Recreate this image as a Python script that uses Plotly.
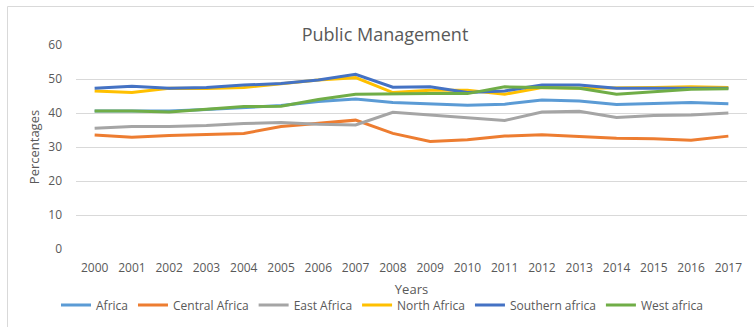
import plotly.graph_objects as go

years = [str(y) for y in range(2000, 2018)]

africa = [40.6, 40.6, 40.6, 41.0, 41.7, 42.2, 43.4, 44.1, 43.1, 42.6, 42.3, 42.6, 43.8, 43.5, 42.5, 42.8, 43.1, 42.7]
central_africa = [33.5, 32.9, 33.4, 33.7, 34.0, 36.0, 37.0, 37.9, 34.0, 31.6, 32.1, 33.2, 33.6, 33.1, 32.6, 32.4, 32.0, 33.2]
east_africa = [35.5, 36.0, 36.0, 36.3, 36.9, 37.2, 36.7, 36.5, 40.2, 39.4, 38.8, 37.8, 40.3, 40.5, 38.7, 39.3, 39.4, 40.0]
north_africa = [46.5, 46.0, 47.3, 47.2, 47.5, 48.7, 49.7, 50.4, 46.0, 46.7, 46.7, 45.5, 47.5, 47.3, 47.3, 47.5, 47.7, 47.5]
southern_africa = [47.3, 47.9, 47.3, 47.5, 48.2, 48.7, 49.7, 51.4, 47.6, 47.7, 46.0, 46.5, 48.2, 48.2, 47.3, 47.3, 47.3, 47.3]
west_africa = [40.6, 40.6, 40.3, 41.0, 41.9, 42.0, 44.0, 45.5, 45.7, 45.7, 45.7, 47.7, 47.5, 47.3, 45.5, 46.2, 47.0, 47.1]

series = [
    ("Africa", africa, "#5B9BD5"),
    ("Central Africa", central_africa, "#ED7D31"),
    ("East Africa", east_africa, "#A5A5A5"),
    ("North Africa", north_africa, "#FFC000"),
    ("Southern africa", southern_africa, "#4472C4"),
    ("West africa", west_africa, "#70AD47"),
]

W, H = 754, 327
ML, MR, MT, MB = 76, 7, 45, 78
PW, PH = W - ML - MR, H - MT - MB

font_family = "Open Sans"
grey = "#595959"

fig = go.Figure()
for name, vals, color in series:
    fig.add_trace(go.Scatter(
        x=years, y=vals, name=name, mode="lines",
        line=dict(color=color, width=3),
    ))

# light chart-area frame
fig.add_shape(type="rect", xref="paper", yref="paper",
              x0=(7.5 - ML) / PW, x1=(W + 10 - ML) / PW,
              y0=(H - MB - (H + 10)) / PH, y1=(H - MB - 6.5) / PH,
              line=dict(color="#D9D9D9", width=1), fillcolor="rgba(0,0,0,0)",
              layer="below")

fig.update_layout(
    width=W, height=H,
    margin=dict(l=ML, r=MR, t=MT, b=MB, autoexpand=False),
    paper_bgcolor="white", plot_bgcolor="white",
    font=dict(family=font_family, size=12, color=grey),
    title=dict(text="Public Management", x=385 / W, xanchor="center",
               y=1 - 35 / H, yanchor="middle",
               font=dict(family=font_family, size=18, color=grey)),
    showlegend=True,
    legend=dict(orientation="h", x=(382 - ML) / PW, xanchor="center",
                y=(H - MB - 305) / PH, yanchor="middle",
                font=dict(size=12, color=grey), itemwidth=30,
                tracegroupgap=0),
    xaxis=dict(
        type="category", range=[-0.5, 17.5], automargin=False,
        showgrid=False, zeroline=False, showline=False,
        ticks="", ticklabelstandoff=10,
        tickfont=dict(size=12, color=grey),
        title=dict(text="Years", standoff=9, font=dict(size=13, color=grey)),
    ),
    yaxis=dict(
        range=[0, 60], dtick=10, automargin=False,
        showgrid=True, gridcolor="#D9D9D9", gridwidth=1,
        zeroline=False, showline=False, ticks="",
        ticklabelstandoff=13,
        tickfont=dict(size=12, color=grey),
        title=dict(text="Percentages", standoff=5, font=dict(size=13, color=grey)),
    ),
)

fig.write_html("out.html")
